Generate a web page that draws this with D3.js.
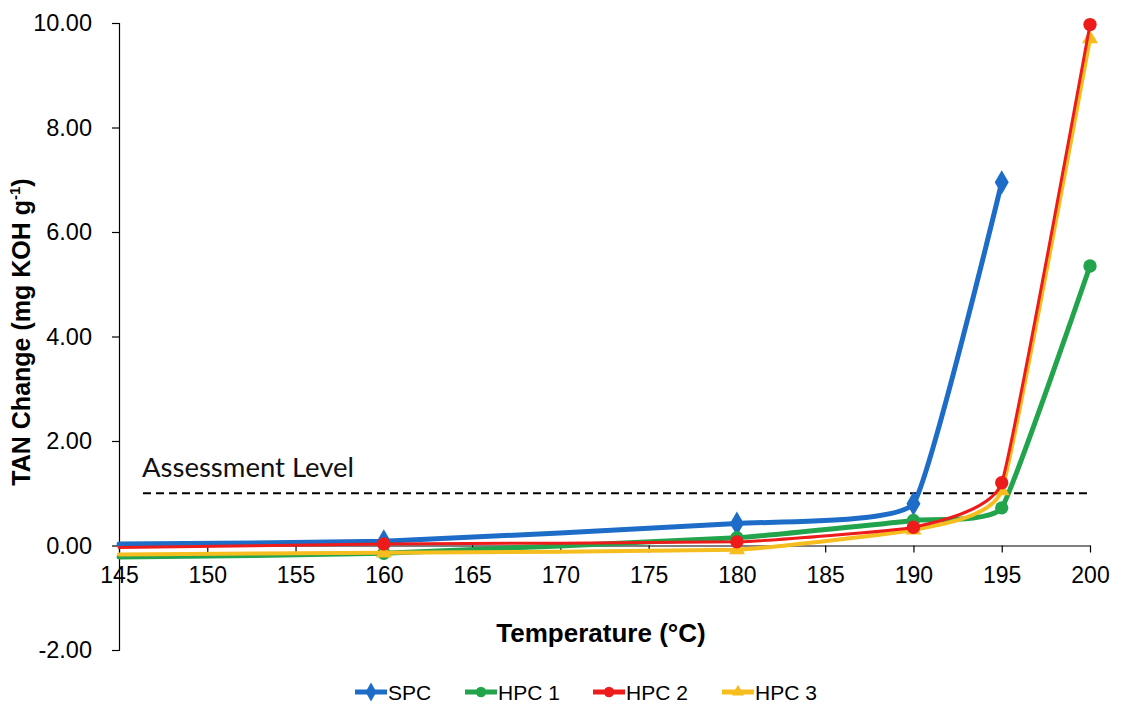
<!DOCTYPE html>
<html>
<head>
<meta charset="utf-8">
<script src="https://cdn.jsdelivr.net/npm/d3@7"></script>
<style>
  html, body { margin: 0; padding: 0; background: #fff; }
  svg { display: block; }
</style>
</head>
<body>
<svg id="chart" width="1124" height="716"></svg>
<script>
// ---- Data ----
const temperatures = [145, 160, 180, 190, 195, 200];
const seriesNames = ["SPC", "HPC 1", "HPC 2", "HPC 3"];
const spcValues  = [0.03, 0.08, 0.42, 0.80, 6.95, null];
const hpc1Values = [-0.22, -0.15, 0.15, 0.48, 0.72, 5.35];
const hpc2Values = [-0.04, 0.03, 0.07, 0.35, 1.20, 9.97];
const hpc3Values = [-0.17, -0.14, -0.08, 0.30, 1.05, 9.70];
const xTicks = [145, 150, 155, 160, 165, 170, 175, 180, 185, 190, 195, 200];
const yTicks = [-2, 0, 2, 4, 6, 8, 10];
const assessmentLevel = 1.0;
const assessmentLabel = "Assessment Level";
const xTitle = "Temperature (°C)";

// ---- Styles ----
const colors = { "SPC": "#1c6cc8", "HPC 1": "#21a44b", "HPC 2": "#ee1b1b", "HPC 3": "#f6bd1f" };
const widths = { "SPC": 5, "HPC 1": 5, "HPC 2": 3, "HPC 3": 4 };
const shapes = { "SPC": d3.symbolDiamond, "HPC 1": d3.symbolCircle, "HPC 2": d3.symbolCircle, "HPC 3": d3.symbolTriangle };
const sizes = { "SPC": 170, "HPC 1": 140, "HPC 2": 140, "HPC 3": 110 };

const valuesByName = { "SPC": spcValues, "HPC 1": hpc1Values, "HPC 2": hpc2Values, "HPC 3": hpc3Values };

const svg = d3.select("#chart");
const font = "'Liberation Sans', Arial, sans-serif";
const fmt2 = d => d.toFixed(2);

const x = d3.scaleLinear().domain([145, 200]).range([119, 1090]);
const y = d3.scaleLinear().domain([-2, 10]).range([650, 23]);

// Y axis
const yAxis = svg.append("g").attr("transform", `translate(${x(145)},0)`)
  .call(d3.axisLeft(y).tickValues(yTicks).tickFormat(fmt2).tickSize(7).tickPadding(20));
yAxis.select(".domain").attr("stroke", "#000").attr("stroke-width", 1.2);
yAxis.selectAll(".tick line").attr("stroke", "#000").attr("stroke-width", 1.2);
yAxis.selectAll(".tick text").attr("font-family", font).attr("font-size", 23.5).attr("fill", "#000");

// X axis (crossing at 0)
const xAxis = svg.append("g").attr("transform", `translate(0,${y(0)})`)
  .call(d3.axisBottom(x).tickValues(xTicks).tickFormat(d3.format("d")).tickSize(7).tickSizeOuter(0).tickPadding(14));
xAxis.select(".domain").attr("stroke", "#000").attr("stroke-width", 1.2);
xAxis.selectAll(".tick line").attr("stroke", "#000").attr("stroke-width", 1.2);
xAxis.selectAll(".tick text").attr("font-family", font).attr("font-size", 23).attr("fill", "#000");

// Assessment level
svg.append("line")
  .attr("x1", 143).attr("x2", x(200))
  .attr("y1", y(assessmentLevel)).attr("y2", y(assessmentLevel))
  .attr("stroke", "#000").attr("stroke-width", 2).attr("stroke-dasharray", "8,5");
svg.append("text")
  .attr("x", 142).attr("y", y(assessmentLevel) - 16)
  .attr("font-family", "Lato, 'Open Sans', sans-serif").attr("font-size", 27.5).attr("fill", "#111")
  .text(assessmentLabel);

// Lines
const line = d3.line()
  .defined(d => d.v !== null)
  .x(d => x(d.t)).y(d => y(d.v))
  .curve(d3.curveCardinal.tension(0.65));

const drawOrder = ["SPC", "HPC 1", "HPC 3", "HPC 2"];
drawOrder.forEach(name => {
  const pts = temperatures.map((t, i) => ({ t, v: valuesByName[name][i] })).filter(d => d.v !== null);
  const g = svg.append("g");
  g.append("path").datum(pts)
    .attr("d", line).attr("fill", "none")
    .attr("stroke", colors[name]).attr("stroke-width", widths[name])
    .attr("stroke-linejoin", "round").attr("stroke-linecap", "round");
  g.selectAll("path.m").data(pts.filter(d => d.t > 145))
    .enter().append("path").attr("class", "m")
    .attr("transform", d => `translate(${x(d.t)},${y(d.v)})`)
    .attr("d", d3.symbol().type(shapes[name]).size(sizes[name]))
    .attr("fill", colors[name]);
});

// Axis titles
svg.append("text")
  .attr("transform", `translate(30,${332}) rotate(-90)`)
  .attr("text-anchor", "middle")
  .attr("font-family", font).attr("font-weight", "bold").attr("font-size", 25).attr("fill", "#000")
  .call(t => {
    t.append("tspan").text("TAN Change (mg KOH g");
    t.append("tspan").attr("font-size", 15).attr("dy", -10).text("-1");
    t.append("tspan").attr("dy", 10).text(")");
  });
svg.append("text")
  .attr("x", 601).attr("y", 642)
  .attr("text-anchor", "middle")
  .attr("font-family", font).attr("font-weight", "bold").attr("font-size", 26).attr("fill", "#000")
  .text(xTitle);

// Legend
const legendX = [355, 465, 593, 722];
const legend = svg.append("g");
seriesNames.forEach((name, i) => {
  const lg = legend.append("g").attr("transform", `translate(${legendX[i]},692)`);
  lg.append("line").attr("x1", 0).attr("x2", 32).attr("y1", 0).attr("y2", 0)
    .attr("stroke", colors[name]).attr("stroke-width", 5);
  lg.append("path").attr("transform", "translate(16,0)")
    .attr("d", d3.symbol().type(shapes[name]).size(sizes[name] * 0.6))
    .attr("fill", colors[name]);
  lg.append("text").attr("x", 33).attr("y", 8)
    .attr("font-family", font).attr("font-size", 21).attr("fill", "#000")
    .text(name);
});
</script>
</body>
</html>
